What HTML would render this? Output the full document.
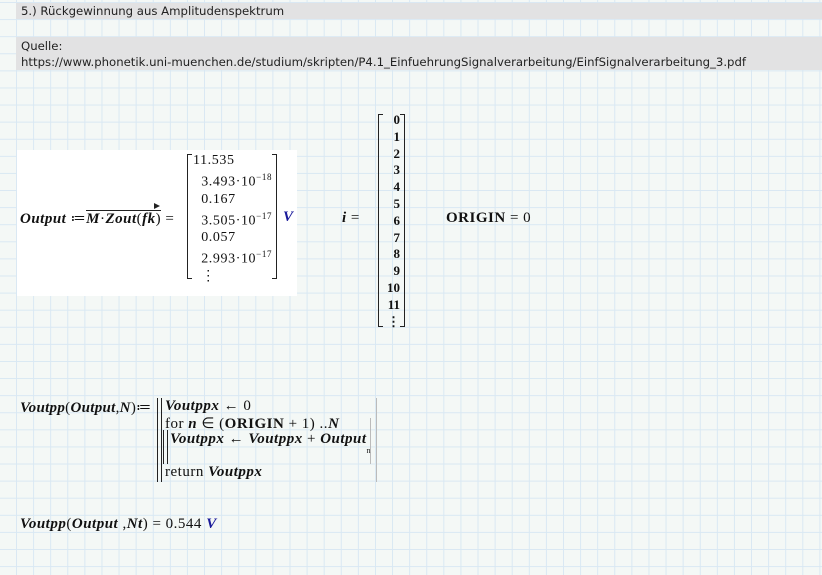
<!DOCTYPE html>
<html><head><meta charset="utf-8"><style>
body{margin:0;width:822px;height:575px;overflow:hidden;position:relative;
background-color:#f4f8f6;
background-image:linear-gradient(to right,#d9e8f3 1px,transparent 1px),linear-gradient(to bottom,#d9e8f3 1px,transparent 1px);
background-size:17.1px 17.1px;background-position:16px 2px;
font-family:"Liberation Serif",serif;color:#111}
.bar{position:absolute;left:16px;right:0;background:#e2e2e3;font-family:"DejaVu Sans",sans-serif;font-size:11.7px;color:#222;padding-left:5px;line-height:16px}
.a{position:absolute;white-space:nowrap;font-size:15px;letter-spacing:0.5px}
i{font-style:italic;font-weight:bold}
b{font-weight:bold}
.v{color:#1a1a9a;font-style:italic;font-weight:bold}
.br{position:absolute;border:1.3px solid #222}
sup{font-size:9px}
</style></head><body>
<div class="bar" style="top:3px;height:16px">5.) Rückgewinnung aus Amplitudenspektrum</div>
<div class="bar" style="top:37px;height:32px;padding-top:1px">Quelle:<br>https://www.phonetik.uni-muenchen.de/studium/skripten/P4.1_EinfuehrungSignalverarbeitung/EinfSignalverarbeitung_3.pdf</div>

<div style="position:absolute;left:17px;top:150px;width:280px;height:146px;background:#fff"></div>
<div class="a" style="left:20px;top:209px"><i>Output</i> ≔<span style="border-top:1.3px solid #222;position:relative"><i>M</i>·<i>Zout</i>(<i>fk</i>)</span> =</div>
<div style="position:absolute;left:154px;top:203px;width:0;height:0;border-left:6px solid #222;border-top:3px solid transparent;border-bottom:3px solid transparent"></div>
<div class="br" style="left:187px;top:154px;width:4px;height:123px;border-right:none"></div>
<div class="br" style="left:272px;top:154px;width:4px;height:123px;border-left:none"></div>
<div class="a" style="left:193px;top:152px;font-size:14px;line-height:17px;letter-spacing:0.6px">11.535<br>&nbsp;&nbsp;3.493·10<sup>−18</sup><br>&nbsp;&nbsp;0.167<br>&nbsp;&nbsp;3.505·10<sup>−17</sup><br>&nbsp;&nbsp;0.057<br>&nbsp;&nbsp;2.993·10<sup>−17</sup><br>&nbsp;&nbsp;⋮</div>
<div class="a v" style="left:283px;top:209px">V</div>

<div class="a" style="left:342px;top:210px"><i>i</i> =</div>
<div class="br" style="left:378px;top:114px;width:4px;height:211px;border-right:none"></div>
<div class="br" style="left:400px;top:114px;width:4px;height:211px;border-left:none"></div>
<div class="a" style="left:383px;top:112px;font-size:13px;line-height:16.8px;font-weight:bold;text-align:right;width:17px;letter-spacing:0">0<br>1<br>2<br>3<br>4<br>5<br>6<br>7<br>8<br>9<br>10<br>11<br>⋮</div>
<div class="a" style="left:446px;top:210px"><b>ORIGIN</b> = 0</div>

<div class="a" style="left:20px;top:398px;letter-spacing:0.3px"><i>Voutpp</i>(<i>Output</i>,<i>N</i>)≔</div>
<div style="position:absolute;left:157px;top:398px;width:3px;height:84px;border-left:1px solid #222;border-right:1px solid #222"></div>
<div style="position:absolute;left:376px;top:398px;height:84px;border-left:1px solid #bbb"></div>
<div class="a" style="left:165px;top:398px"><i>Voutppx</i> ← 0</div>
<div class="a" style="left:165px;top:414px">for <i>n</i> ∈ (<b>ORIGIN</b> + 1) ..<i>N</i></div>
<div style="position:absolute;left:163px;top:430px;width:3px;height:34px;border-left:1px solid #222;border-right:1px solid #222"></div>
<div style="position:absolute;left:370px;top:418px;height:46px;border-left:1px solid #bbb"></div>
<div class="a" style="left:170px;top:431px"><i>Voutppx</i> ← <i>Voutppx</i> + <i>Output</i><sub style="font-size:8px;position:relative;top:6px">n</sub></div>
<div class="a" style="left:165px;top:464px">return <i>Voutppx</i></div>

<div class="a" style="left:20px;top:516px"><i>Voutpp</i>(<i>Output</i> ,<i>Nt</i>) = 0.544 <span class="v">V</span></div>
</body></html>
